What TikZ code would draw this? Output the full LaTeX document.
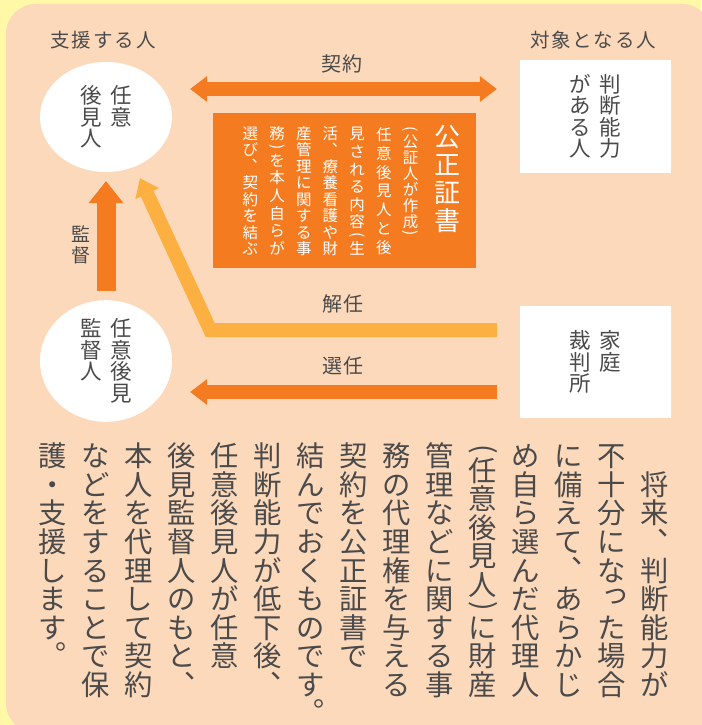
\documentclass[tikz,border=0pt]{standalone}
\usepackage{fontspec}
\usepackage{graphicx}
\setmainfont{Noto Sans CJK JP}
\newfontfamily\jpv{Noto Sans CJK JP}
\usetikzlibrary{arrows.meta,shapes.geometric,calc}
\definecolor{ybg}{HTML}{FFF8A6}
\definecolor{peach}{HTML}{FDD9BB}
\definecolor{orng}{HTML}{F47B20}
\definecolor{lorng}{HTML}{FBB041}
\definecolor{tgray}{HTML}{4A4A4A}
\makeatletter
\newdimen\vc@pitch
\def\vc@end{VCEND}
\def\vsp{\kern0pt}
\newcommand\vcol[2]{\vtop{\offinterlineskip\vc@pitch=#1\relax\hbox{}\vc@loop#2\vc@end}}
\def\vc@loop#1{\ifx#1\vc@end\let\vc@next\relax\else\vc@cell{#1}\let\vc@next\vc@loop\fi\vc@next}
\def\vc@strut{\vrule height .88em depth .12em width 0pt\relax}
\def\vc@normal#1{\vc@strut#1}
\def\vc@comma#1{\vc@strut\hbox to 1em{\kern.59em\raise.62em\rlap{#1}\hss}}
\def\vc@period#1{\vc@strut\hbox to 1em{\kern.59em\raise.36em\rlap{#1}\hss}}
\def\vc@small#1{\vc@strut\hbox to 1em{\kern.12em\raise.22em\rlap{#1}\hss}}
\def\vc@lp#1{\rotatebox{-90}{(}}
\def\vc@rp#1{\rotatebox{-90}{)}}
\def\vc@cell#1{\dimen@=\vc@pitch\relax
  \let\vc@glyph\vc@normal
  \ifx#1（\dimen@=.5\vc@pitch\let\vc@glyph\vc@lp\fi
  \ifx#1）\dimen@=.5\vc@pitch\let\vc@glyph\vc@rp\fi
  \ifx#1、\let\vc@glyph\vc@comma\fi
  \ifx#1。\dimen@=.5\vc@pitch\let\vc@glyph\vc@period\fi
  \ifx#1っ\let\vc@glyph\vc@small\fi
  \hbox to 1em{\hss\vbox to\dimen@{\vss\hbox{\vc@glyph{#1}}\vss}\hss}}
\newcommand\hsp[2]{\hbox{\dimen@=#1\relax\hs@loop#2\vc@end}}
\def\hs@loop#1{\ifx#1\vc@end\let\vc@next\relax\else\hbox to\dimen@{\hss#1\hss}\let\vc@next\hs@loop\fi\vc@next}
\makeatother
\tikzset{
  lab/.style={inner sep=0pt, text=tgray},
  oval/.style={ellipse, fill=white, minimum width=132pt, minimum height=110pt, inner sep=0pt, text=tgray, font=\jpv\fontsize{21.5}{21.5}\selectfont},
  wbox/.style={fill=white, minimum width=151pt, minimum height=113pt, inner sep=0pt, text=tgray, font=\jpv\fontsize{21.5}{21.5}\selectfont},
  tipS/.tip={Triangle[length=17pt,width=26pt,line width=0pt]},
  tipB/.tip={Triangle[length=22pt,width=35pt,line width=0pt]},
  fatarrow/.style={line width=14pt},
}
\begin{document}
\begin{tikzpicture}[x=1pt,y=-1pt]
\useasboundingbox (0,0) rectangle (701,725);
\fill[ybg] (0,0) rectangle (701,725);
\fill[peach, rounded corners=30pt] (6,4) rectangle (712,733);

\node[lab, font=\fontsize{19.5}{20}\selectfont] (t1) at (103,40) {\hsp{21.6pt}{支援する人}};
\node[lab, font=\fontsize{19.5}{20}\selectfont] (t2) at (593,40) {\hsp{21.3pt}{対象となる人}};

\node[oval] (A) at (106,117) {\hbox{\vcol{21.5pt}{後見人}\hskip8.5pt\vcol{21.5pt}{任意}}};
\node[oval] (B) at (106,361) {\hbox{\vcol{21.5pt}{監督人}\hskip8.5pt\vcol{21.5pt}{任意後見}}};
\node[wbox] (P) at (595.5,116.5) {\hbox{\vcol{21.5pt}{がある人}\hskip8.5pt\vcol{21.5pt}{判断能力}}};
\node[wbox, minimum height=112pt] (C) at (595.5,362) {\hbox{\vcol{21.5pt}{裁判所}\hskip8.5pt\vcol{21.5pt}{家庭}}};

\node[fill=orng, minimum width=263pt, minimum height=155pt, inner sep=0pt] (K) at (344.5,190.5) {};
\node[inner sep=0pt, anchor=north, text=white, font=\jpv\fontsize{26}{26}\selectfont] (K1) at (447,122.5) {\vcol{28pt}{公正証書}};
\node[inner sep=0pt, anchor=north east, text=white, font=\jpv\fontsize{15.5}{15.5}\selectfont] (K2) at (418.5,125)
  {\hbox{\vcol{16.5pt}{選び、契約を結ぶ}\hskip11.2pt\vcol{17.6pt}{務）を本人自らが}\hskip11.2pt\vcol{16.5pt}{産管理に関する事}\hskip11.2pt\vcol{16.5pt}{活、療養看護や財}\hskip11.2pt\vcol{17.6pt}{見される内容（生}\hskip11.2pt\vcol{18.8pt}{任意後見人と後}\hskip11.2pt\vcol{16pt}{（公証人が作成）}}};

\node[lab, anchor=north, font=\jpv\fontsize{19}{19}\selectfont] (L1) at (81,224) {\vcol{21pt}{監督}};
\node[lab, font=\fontsize{20}{20}\selectfont] (L2) at (342,64) {\hsp{21pt}{契約}};
\node[lab, font=\fontsize{20}{20}\selectfont] (L3) at (343,304) {\hsp{21pt}{解任}};
\node[lab, font=\fontsize{20}{20}\selectfont] (L4) at (343,366) {\hsp{21pt}{選任}};

\coordinate (k1) at ($(A.east)+(18,-28)$);
\coordinate (k2) at ($(P.west)+(-23,-27.5)$);
\draw[orng, fatarrow, tipS-tipS] (k1) -- (k2);

\draw[orng, line width=19pt, -tipB, shorten <=9pt, shorten >=9pt] (B.north) -- (A.south);

\coordinate (j1) at ($(C.west)+(-23,-32)$);
\coordinate (j2) at ($(B.east)+(38,-31)$);
\coordinate (j3) at ($(A.south)+(34,6)$);
\draw[lorng, fatarrow, line join=miter, -tipS] (j1) -- (j2) -- (j3);

\coordinate (s1) at ($(C.west)+(-23,30)$);
\coordinate (s2) at ($(B.east)+(18,31)$);
\draw[orng, fatarrow, -tipS] (s1) -- (s2);

\node[lab, anchor=north east, font=\jpv\fontsize{28.3}{28.3}\selectfont] (T) at (669.2,441.5)
  {\hbox{\vcol{28.6pt}{護・支援します。}\hskip14.7pt
  \vcol{28.6pt}{などをすることで保}\hskip14.7pt
  \vcol{28.6pt}{本人を代理して契約}\hskip14.7pt
  \vcol{28.6pt}{後見監督人のもと、}\hskip14.7pt
  \vcol{28.6pt}{任意後見人が任意}\hskip14.7pt
  \vcol{28.6pt}{判断能力が低下後、}\hskip14.7pt
  \vcol{28.6pt}{結んでおくものです。}\hskip14.7pt
  \vcol{28.6pt}{契約を公正証書で}\hskip14.7pt
  \vcol{28.6pt}{務の代理権を与える}\hskip14.7pt
  \vcol{28.6pt}{管理などに関する事}\hskip14.7pt
  \vcol{28.6pt}{（任意後見人）に財産}\hskip14.7pt
  \vcol{28.6pt}{め自ら選んだ代理人}\hskip14.7pt
  \vcol{28.6pt}{に備えて、あらかじ}\hskip14.7pt
  \vcol{28.6pt}{不十分になった場合}\hskip14.7pt
  \vcol{28.6pt}{\vsp 将来、判断能力が}}};
\end{tikzpicture}
\end{document}
